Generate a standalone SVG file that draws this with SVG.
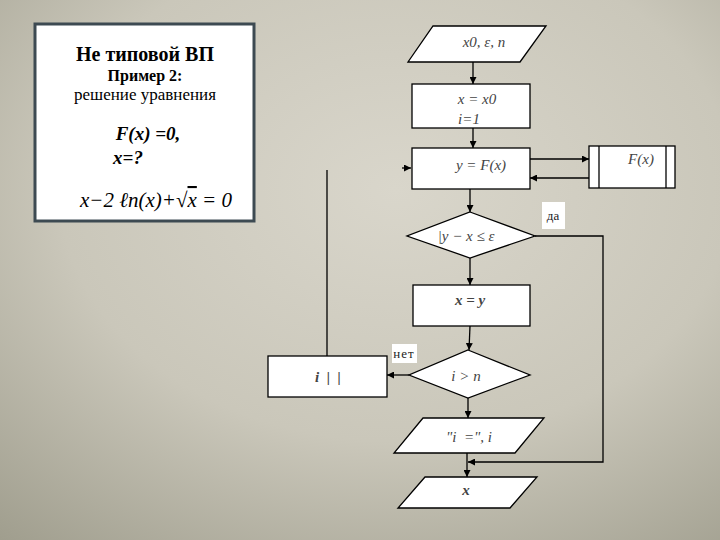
<svg xmlns="http://www.w3.org/2000/svg" width="720" height="540" viewBox="0 0 720 540">
<defs>
<radialGradient id="bg" cx="0.55" cy="0.35" r="0.85">
<stop offset="0" stop-color="#d9d6cb"/>
<stop offset="0.55" stop-color="#cac7ba"/>
<stop offset="1" stop-color="#a09e8e"/>
</radialGradient>
<marker id="ah" viewBox="0 0 10 10" refX="10" refY="5" markerWidth="7" markerHeight="7" orient="auto" markerUnits="userSpaceOnUse">
<path d="M0,0 L10,5 L0,10 z" fill="#000"/>
</marker>
<style>
.sh{fill:#fff;stroke:#000;stroke-width:1.3}
.ln{fill:none;stroke:#000;stroke-width:1.3}
.m{font-family:"Liberation Serif","DejaVu Serif","Times New Roman",serif;font-size:15px;font-style:italic;fill:#444;text-anchor:middle}
.lb{font-family:"Liberation Serif","DejaVu Serif",serif;font-size:13px;fill:#222;text-anchor:middle}
.lbox{fill:#fff;stroke:none}
.t{font-family:"Liberation Serif","DejaVu Serif","Times New Roman",serif;fill:#000;text-anchor:middle}
</style>
</defs>
<rect width="720" height="540" fill="url(#bg)"/>

<g id="title">
<rect x="35" y="24" width="219" height="197" fill="#fff" stroke="#3d4a52" stroke-width="3"/>
<text class="t" x="145" y="61" font-size="20" font-weight="bold">Не типовой ВП</text>
<text class="t" x="145" y="81" font-size="16" font-weight="bold">Пример 2:</text>
<text class="t" x="145" y="100" font-size="17">решение уравнения</text>
<text class="t" x="148" y="140" font-size="19" font-weight="bold" font-style="italic">F(x) =0,</text>
<text class="t" x="128" y="164" font-size="19" font-weight="bold" font-style="italic">x=?</text>
<text class="t" x="156" y="207" font-size="21" font-style="italic" fill="#222">x−2 ℓn(x)+√<tspan text-decoration="overline">x</tspan> = 0</text>
</g>

<g id="connectors">
<line class="ln" x1="473" y1="62" x2="473" y2="84" marker-end="url(#ah)"/>
<line class="ln" x1="473" y1="128" x2="473" y2="148" marker-end="url(#ah)"/>
<line class="ln" x1="530" y1="159" x2="589" y2="159" marker-end="url(#ah)"/>
<line class="ln" x1="589" y1="178" x2="530" y2="178" marker-end="url(#ah)"/>
<line class="ln" x1="470" y1="189" x2="470" y2="212" marker-end="url(#ah)"/>
<line class="ln" x1="470" y1="258" x2="470" y2="285" marker-end="url(#ah)"/>
<line class="ln" x1="470" y1="326" x2="469" y2="350" marker-end="url(#ah)"/>
<line class="ln" x1="409" y1="375" x2="387" y2="375" marker-end="url(#ah)"/>
<polyline class="ln" points="327,356 327,170"/>
<line class="ln" x1="402" y1="168" x2="411" y2="168" marker-end="url(#ah)"/>
<line class="ln" x1="468" y1="398" x2="468" y2="418" marker-end="url(#ah)"/>
<polyline class="ln" points="535,236 603,236 603,462 468,462" marker-end="url(#ah)"/>
<line class="ln" x1="467" y1="453" x2="467" y2="477" marker-end="url(#ah)"/>
</g>

<g id="input">
<polygon class="sh" points="433,26 546,26 520,62 408,62"/>
<text class="m" x="484" y="47">x0, ε, n</text>
</g>

<g id="init">
<rect class="sh" x="412" y="84" width="118" height="44"/>
<text class="m" x="477" y="104">x = x0</text>
<text class="m" x="469" y="124" font-size="17">i=1</text>
</g>

<g id="calc">
<rect class="sh" x="412" y="148" width="118" height="41"/>
<text class="m" x="481" y="170" font-size="16">y = F(x)</text>
</g>

<g id="func">
<rect class="sh" x="589" y="146" width="86" height="42"/>
<line class="ln" x1="599" y1="146" x2="599" y2="188"/>
<line class="ln" x1="666" y1="146" x2="666" y2="188"/>
<text class="m" x="641" y="164" font-size="16">F(x)</text>
</g>

<g id="cond1">
<polygon class="sh" points="470,212 535,236 470,258 407,236"/>
<text class="m" x="466" y="241" font-size="16">|y − x  ≤ ε</text>
<rect class="lbox" x="542" y="202" width="23" height="27"/>
<text class="lb" x="553" y="220">да</text>
</g>

<g id="assign">
<rect class="sh" x="413" y="285" width="117" height="41"/>
<text class="m" x="470" y="305" font-weight="bold" font-size="18" fill="#000">x = y</text>
</g>

<g id="cond2">
<polygon class="sh" points="468,350 530,375 468,398 409,375"/>
<text class="m" x="466" y="381" font-size="16">i   &gt;   n</text>
<rect class="lbox" x="392" y="344" width="25" height="19"/>
<text class="lb" x="404" y="358" font-size="11" letter-spacing="1">нет</text>
</g>

<g id="incr">
<rect class="sh" x="268" y="356" width="119" height="41"/>
<text class="m" x="328" y="382" font-weight="bold" font-size="17" fill="#000" xml:space="preserve">i  |  |</text>
</g>

<g id="out1">
<polygon class="sh" points="423,418 544,418 515,453 394,453"/>
<text class="m" x="469" y="442" font-size="17" xml:space="preserve">"i  =", i</text>
</g>

<g id="out2">
<polygon class="sh" points="425,477 537,477 510,508 398,508"/>
<text class="m" x="466" y="495" font-weight="bold" font-size="18" fill="#000">x</text>
</g>
</svg>
